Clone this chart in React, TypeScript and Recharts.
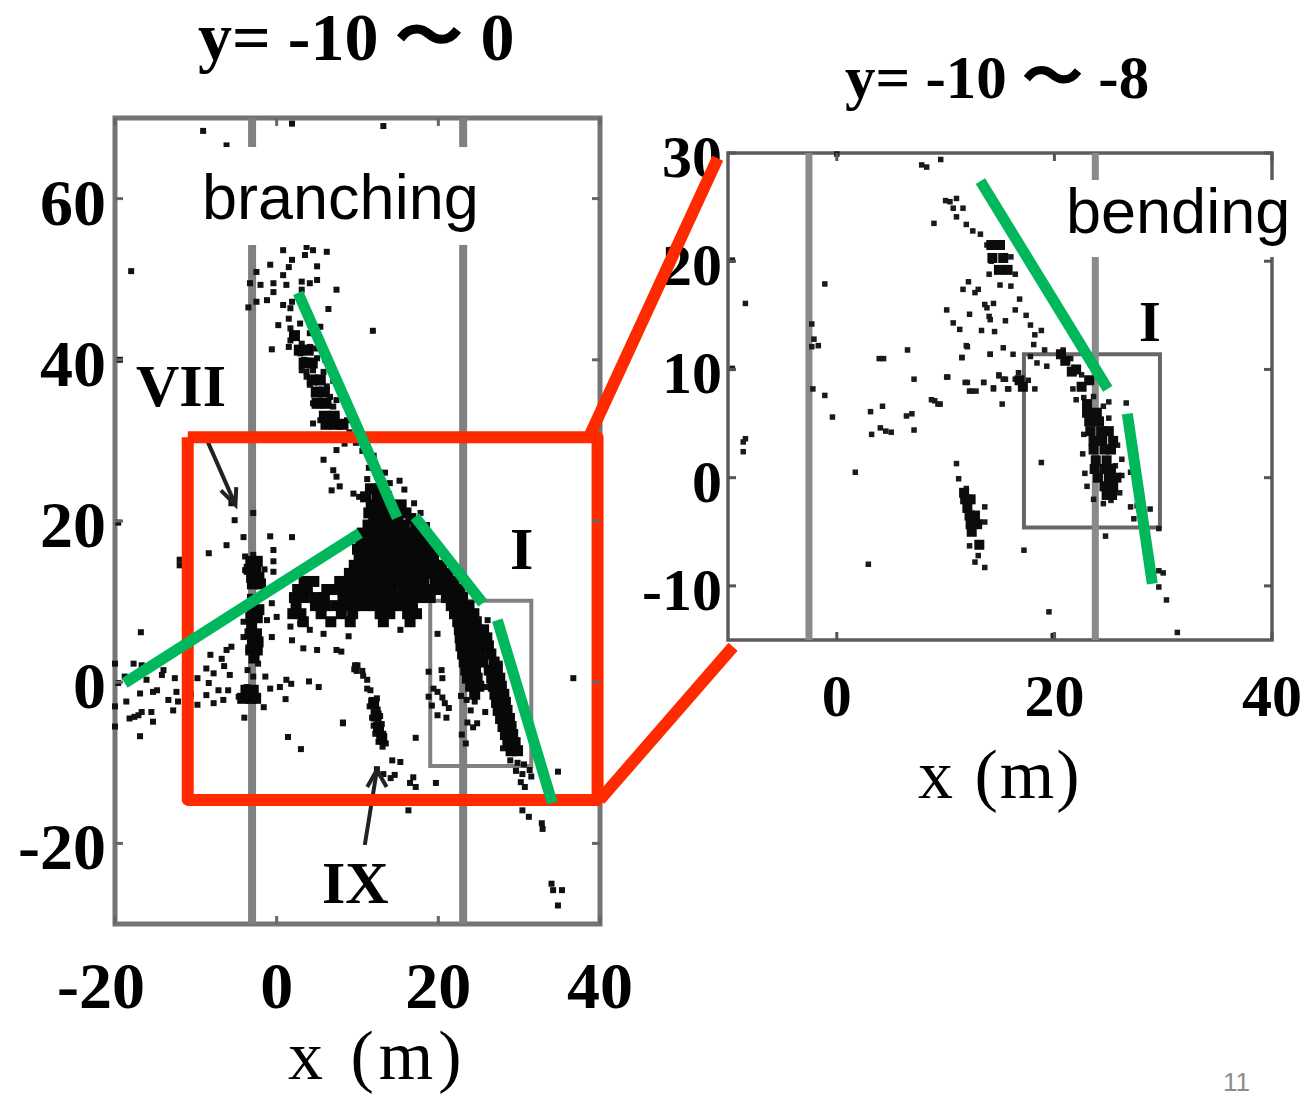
import { ScatterChart, Scatter, XAxis, YAxis, ReferenceArea, ReferenceLine } from "recharts";

type Pt = [number, number];
const toObj = (pts: Pt[]) => pts.map(([x, y]) => ({ x, y }));
// dense rows: [y, x, x, x...]
const fromRows = (rows: number[][]): Pt[] => rows.flatMap(([y, ...xs]) => xs.map((x) => [x, y] as Pt));

const leftXTicks = [-20, 0, 20, 40];
const leftYTicks = [-20, 0, 20, 40, 60];
const rightXTicks = [0, 20, 40];
const rightYTicks = [-10, 0, 10, 20, 30];
const leftWalls = [-3.04, 23.07];
const rightWalls = [-2.56, 23.76];

// solid parts of the left panel, read row by row
const leftCoreRows = [
  [24, 11.6, 12.8], [23, 11, 12.4, 13.6], [22, 11.7, 12.9, 14.1, 15.4], [21, 11.4, 12.6, 13.8, 15, 16],
  [20.3, 12, 13, 14, 15, 16.6],
  [19.5, 11.3, 12.4, 13.5, 14.6, 15.8, 17.2],
  [18.5, 10.6, 11.8, 13, 14.1, 15.2, 16.3, 17.4],
  [17.5, 10.4, 11.5, 12.7, 13.8, 15, 16.2, 17.2, 18.2],
  [16.5, 10, 11.2, 12.3, 13.4, 14.6, 15.7, 16.8, 18, 19],
  [15.5, 10.2, 11.4, 12.5, 13.6, 14.7, 15.9, 17, 18.2, 19.4],
  [14.5, 9.6, 10.8, 12, 13.1, 14.2, 15.3, 16.4, 17.5, 18.6, 19.8, 20.4],
  [13.5, 9, 10.1, 11.2, 12.4, 13.5, 14.6, 15.6, 16.8, 18, 19.1, 20.4, 21.2],
  [12.5, 3.4, 4.6, 7.8, 9, 10.1, 11.3, 12.5, 13.7, 14.8, 16, 17.1, 18.2, 19.6, 20.7, 21.9],
  [11.5, 2.6, 3.8, 6.2, 7.4, 8.6, 9.7, 10.9, 12, 13.2, 14.3, 15.6, 16.8, 18, 19.2, 20.3, 21.5, 22.6],
  [10.5, 2.2, 3.4, 4.7, 5.9, 8.2, 9.4, 10.6, 11.8, 13, 14.2, 15.3, 16.5, 17.7, 19, 21, 22.2, 23],
  [9.5, 2.4, 4.8, 6, 7.3, 8.5, 9.7, 10.9, 12.1, 13.3, 14.4, 15.6, 16.8, 21.6, 22.8, 23.8],
  [8.5, 2, 3, 5.5, 8, 9.4, 12.8, 14, 16.2, 17.3, 22, 23.2, 24.4],
  [7.5, 3.3, 6.7, 9.1, 13.2, 16.5, 22.4, 23.5, 24.7],
  [6.5, 22.6, 23.7, 24.8, 25.6],
  [5.5, 22.7, 23.8, 24.9, 26],
  [4.5, 22.8, 23.9, 25, 26.2],
  [3.5, 23, 24, 25.2, 26.5],
  [2.5, 23.2, 24.3, 25.5, 26.9],
  [1.5, 23.4, 24.6, 26.3, 27.3],
  [0.5, 23.6, 24.8, 26.6, 27.6],
  [-0.5, 24, 25, 26.8, 27.8],
  [-1.5, 24.5, 27, 28.1],
  [-2.5, 27.2, 28.3],
  [-3.5, 27.4, 28.5],
  [-4.5, 27.7, 28.8],
  [-5.5, 28, 29],
  [-6.5, 28.3, 29.2],
  [-7.5, 28.6, 29.5],
  [-8.5, 29, 29.8],
  [15, -3.2, -2.4], [14, -3.4, -2.6], [13, -3.1, -2.2], [12.2, -3, -2],
  [9, -3, -2.2], [8, -3.2, -2.4], [7, -3.1], [6, -3.3, -2.5], [5, -3, -2.3], [4, -3.2, -2.4], [3, -2.8],
  [-1, -3.8, -2.9], [-2, -4.2, -3.2, -2.6],
  [37.5, 4.4, 5.4], [36, 4.9, 5.9], [34.6, 5, 6.1], [33, 5.9, 7.1], [32, 6.1, 7.2, 8.2],
  [43, 2.2], [41.2, 2.8, 3.9], [39.6, 3.4, 4.4],
  [-2.6, 12], [-4.2, 12.3], [-5.6, 12.6], [-7, 13],
];

const leftSparse: Pt[] = [
  [-9.1, 68.4], [-6.2, 66.6], [1.9, 69.3], [13.2, 69], [-18, 51], [-19.4, 40], [-19.6, 19.8],
  [0.8, 53.6], [1.9, 52.4], [1.5, 51.5], [3.7, 54], [4.5, 53.6], [6.2, 53.4], [3.5, 53], [-0.8, 51.8], [-2.5, 50.9], [-3.3, 49.5],
  [-2, 49.3], [-0.4, 49.5], [0.8, 50.5], [1.2, 49.3], [3.1, 49.7], [4.1, 49.5], [5, 49.9], [5, 51.6], [7.4, 48.7], [6.4, 46.3],
  [-3.5, 46.5], [-2.5, 47.2], [-1.2, 47.4], [-0.4, 48.4], [0.8, 46.8], [1.9, 47.2], [3.1, 48.7], [0.2, 44.3], [1.5, 45.1],
  [1.7, 46.4], [2.9, 44.5], [1.7, 43.9], [5.4, 44.1], [-0.6, 41.3], [1.5, 41.6], [1.7, 42.4], [3.1, 42], [4.1, 41.6], [4.1, 43.3],
  [2.9, 40.8], [5, 40.2], [3.7, 38.5], [3.1, 38.7], [4.5, 38.7], [5.8, 38.5], [3.7, 37.9], [5.4, 37.5], [6.2, 36.7], [4.1, 36.9],
  [5, 35.8], [6.6, 35.4], [4.5, 34.6], [5.8, 34.6], [7, 34.2], [5.4, 32.5], [4.5, 32.1], [6.2, 32.9], [7.4, 33], [8.7, 32.5],
  [7.8, 31.7], [9, 31], [3.4, 40], [4.4, 39.7], [4.9, 41.4], [6, 40], [7, 37.4], [7.4, 35], [11.9, 43.6],
  [5.8, 27.6], [7.4, 28.8], [8.4, 29.6], [9.8, 29.7], [10.6, 28.7], [12, 28.1], [11.4, 26.6], [11.2, 25.2], [7, 26.3], [7.4, 25.5],
  [6.8, 23.8], [7.8, 24.3], [9.5, 23.4], [10.2, 23], [13.4, 26], [14, 24.7], [15.8, 23.9], [15.2, 25], [17, 22.2], [17.8, 21], [18.6, 19.5],
  [-5.6, 22.2], [-5.2, 20.1], [-2.9, 21], [-4.1, 18], [-0.8, 18.1], [1.9, 18], [-0.4, 16.4], [-6.2, 17], [-8.4, 16], [-12, 14.5], [-12, 15.2],
  [-3.9, 15.6], [-2.9, 15.8], [-0.4, 15], [-2.5, 14.1], [-3.9, 13.9], [-1.5, 14], [-0.4, 13.7], [-3.3, 12.7], [-2, 12.3], [-3.3, 10.6],
  [-0.6, 9.8], [-2.9, 8.5], [-4.1, 7.5], [-2.9, 6.9], [-1.2, 7.7], [0, 8.1], [-4.1, 5.6], [-2.9, 5.2], [-0.6, 5.6], [1.7, 6.9],
  [2.9, 7.3], [4.1, 6.5], [5.8, 6], [1.9, 5.2], [3.3, 4.2], [5, 4], [7.4, 4], [9.7, 2.1], [9.9, 1.4], [-3.5, 4], [-2.5, 3.6], [-2.3, 2.3],
  [-6.2, 4], [-5.6, 4.4], [-6.8, 2.9], [-6.5, 2], [-8.2, 3.4], [-8.7, 1.7], [-7.8, 1.1], [-5.8, 0.9], [-8.4, -0.1], [-8.7, -1.6], [-7.2, -1],
  [-6, -1], [-7.8, -2.6], [-6.6, -2.2], [-4.7, -1.8], [-3.7, -1.8], [-2.9, -1.6], [-3.7, -0.6], [-2.9, 0.7], [-3.6, 1.5], [-1.4, 0.7], [-0.8, -0.8],
  [0.4, -0.6], [1.2, 0.3], [1.8, -0.2], [1.1, -2.1], [-1.6, -3.1], [-4, -4.4], [4, 0.1], [5.2, -0.6], [8.2, -5.1], [1.4, -6.8], [3, -8.3],
  [-17.7, 2.3], [-16.7, 2.1], [-16.8, 6.2], [-20, 2.3], [-19.6, -0.1], [-18.8, 0.7], [-16.1, 0.3], [-14, 1.5], [-14.2, 0.9], [-12.6, 0.5],
  [-15.3, -1.2], [-14.8, -1], [-16.9, -1.4], [-12.4, -1.2], [-13.4, -2.2], [-12.2, -2.4], [-18.6, -2.4], [-12.8, -3.5], [-16.7, -3.7], [-18.2, -4.5],
  [-17.6, -4.3], [-17.1, -4.1], [-15.5, -3.7], [-15.3, -4.9], [-16.9, -6.7], [-20, -3], [-20, -5.5], [-9.8, -2.8], [-9.8, 0.5], [-10.6, -1.5],
  [10, 2.1], [9.6, 1.6], [10.6, 1.4], [11.2, 0.3], [10.7, 0.8], [11.6, -1], [11.2, -0.8], [11.8, -2.2], [12.4, -2], [12, -3.2], [11.5, -3],
  [12.5, -3.4], [12.2, -4.2], [11.8, -4.4], [12.8, -4.2], [12.5, -5.2], [12, -5.4], [13, -5.2], [12.7, -6.2], [12.2, -6.4], [13.2, -6.4], [13, -7.2],
  [12.6, -7.4], [13.5, -7.6], [13.1, -8], [14.3, -9.7], [15.3, -9.9], [14.6, -11.5], [16.5, -12.5], [16.3, -15.9], [19.7, -12.5], [17.2, -6.9], [8.2, -5],
  [13.2, -11.4], [12.4, -10.8], [14.1, -11.9], [16.9, -11.8], [17.2, -13],
  [18.8, 1.3], [20.5, 0.5], [20.4, 1.5], [19.9, -1.2], [18.8, -1.8], [19.2, -2.9], [20.8, -2.6], [21.3, -3.2], [19.9, -4.1], [21, -4.4], [19.4, -0.8],
  [20.5, -1.9], [24.3, -5.6], [22.9, -6.5], [23.4, -7.6], [25.8, -3.7], [28, -8.2], [26.9, -1.5], [22.8, -1.7], [23.5, -2.2], [24.5, -2.4], [24, -3.5], [23.6, -5],
  [24.8, -5.1], [25.8, -0.6], [27.6, 2.3], [27.6, 0], [26.1, 7.7], [23.5, 8], [19.9, 6], [15.3, 6.5], [8.9, 5.7], [8, 3.8],
  [28.9, -9.7], [29.8, -10], [30.6, -10.2], [29.6, -11], [30.4, -11.4], [31.3, -10.9], [31.5, -11.7], [30.2, -12.4], [30.7, -13], [30.9, -14.5], [30.4, -15.9],
  [31.2, -16.7], [32.8, -17.5], [32.9, -18.2], [36.7, 0.5], [34.8, -11.1], [34.2, -25.8], [34, -25], [35.3, -25.8], [34.8, -27.7],
];

// solid part of the fault in the right panel
const rightCoreRows = [
  [21.5, 14.2, 15], [20.3, 14.3, 15.3], [19.2, 14.9, 15.7], [11.4, 20.6], [10.8, 21], [10, 22], [9.8, 21.6], [9, 16.8, 23.2], [8.4, 17.1, 22.5],
  [6.8, 23],
  [6, 23, 23.9], [5.2, 23.2, 24.1], [4.3, 23.3, 24.3, 25], [3.4, 23.6, 24.4, 25.4], [2.6, 23.6, 24.6, 25.2], [1.6, 23.8, 24.8],
  [0.8, 23.7, 24.6, 25.2], [0, 24, 25, 25.7], [-0.8, 24.6, 25.4], [-1.6, 24.8, 25.3],
  [-1.4, 11.7], [-2, 11.8, 12.3], [-2.8, 12], [-3.5, 12.2, 12.7], [-4.3, 12.3, 12.9], [-5, 12.4], [-6.2, 13.1],
];

const rightSparse: Pt[] = [
  [0, 29.9], [8.26, 28.7], [7.8, 28.9], [9.55, 29.4], [10.4, 25.5], [10, 25.6], [11, 25.8], [11.6, 24.9], [10.7, 24.9], [11, 24.1], [8.93, 23.5], [11.9, 23.4],
  [12.5, 22.8], [13.2, 22.5], [13.8, 21.5], [14.7, 21.7], [14.2, 20], [14, 18.8], [15.6, 19.4], [15, 17.8], [16, 20.4], [16.4, 18.8], [16, 17.7],
  [12.1, 18.1], [11.6, 17.4], [12.7, 17.1], [13, 17.4], [10.1, 15.5], [12.2, 15.1], [14, 14.9], [13.8, 15.7], [14.4, 16.1], [15.5, 14.5], [10.7, 14.3],
  [13.3, 13.6], [14.5, 13.5], [12, 12.1], [11.5, 11.1], [14.1, 11.4], [15.3, 12], [6.5, 11.8], [4.3, 11], [3.9, 11], [-1.1, 17.9], [-8.4, 16.1], [-9.6, 20.1],
  [-9.6, 10.1], [-2.3, 14.2], [-2.1, 12.8], [-1.7, 12.2], [-2.3, 12.1], [-2.2, 8.2], [-1.1, 7.6], [7.1, 9.1], [10.2, 9.3], [12, 8.8], [12.2, 8], [12.8, 8],
  [13.5, 8.8], [14.4, 8.3], [14.9, 9.4], [15.3, 9.1], [15.7, 8.2], [15.2, 6.8], [8.7, 7.2], [9.3, 6.8], [4.2, 6.6], [3.1, 6.1], [-0.4, 5.6], [6.9, 5.9], [6.4, 5.7],
  [7.1, 4.4], [4, 4.6], [5, 4.2], [4.5, 4.3], [3.2, 4], [-8.4, 3.6], [-8.6, 3.3], [-8.6, 2.4], [2.9, -8], [1.7, 0.5],
  [16.8, 16.5], [16.4, 15.5], [17.8, 14.1], [18.2, 13.2], [19.1, 11.8], [17.4, 15], [18.8, 13.6], [14.1, 14.6], [11.3, 13.7], [13.6, 16],
  [11.9, 12.2], [11.5, 11.1], [14.1, 11.4], [16.2, 11.4], [18.1, 12.3], [17.8, 11.2], [18.4, 10.6], [19.3, 10.3], [16.7, 9.7], [17.6, 9], [16.4, 9.1], [15.8, 8.2],
  [18.2, 8.2], [14.9, 9.5], [15.5, 9.1], [13.5, 8.8], [14.4, 8.2], [11.8, 8.8], [12.4, 8], [10.1, 9.3], [9, 7.1], [9.5, 6.8], [11, 1.3], [11.2, -0.1], [18.8, 1.4],
  [20.8, 11.8], [21.5, 11], [22.5, 9.5], [23.4, 9], [21.7, 8.2], [22, 7.2], [22.7, 7.4], [23.6, 7.5], [24.5, 6.6], [25, 5.5], [26.6, 6.9], [25, 7],
  [22.7, 4], [22.6, 2.2], [25.8, 3], [25.6, 1.1], [22.8, 0.4], [23, -0.8], [25.6, -0.8], [26.2, 1.7], [27, 0.5], [26.2, 0.2], [26, -1.4], [23.6, -2], [25.2, -2.1],
  [24.5, -2.4], [27, -2.7], [27.6, -2.6], [28.8, -2.9], [27.3, -3.8], [29.6, -4.7], [24.7, -5.4], [17.2, -6.7], [19.5, -12.4], [19.9, -14.6], [29.6, -8.6], [30, -8.8],
  [29.6, -10.1], [30.3, -11.3], [31.3, -14.3], [13.6, -2.7], [13.6, -4.1], [12.2, -6.3], [12.7, -7.8], [13.6, -8.3], [13, -7.2], [11.9, -1],
];

const leftRedBox: Pt[] = [[-11, 30.4], [39.7, 30.4], [39.7, -14.6], [-11, -14.6], [-11, 30.4]];
const leftGreen: Pt[][] = [
  [[2.65, 48.3], [14.9, 20.4]],
  [[-18.8, -0.1], [10.3, 18.5]],
  [[17.1, 20.5], [25.5, 9.8]],
  [[27.3, 7.7], [34.1, -15]],
];
const rightGreen: Pt[][] = [
  [[13.2, 27.4], [24.9, 8.2]],
  [[26.7, 5.9], [29, -9.8]],
];
const arrowVII: Pt[] = [[-8.6, 30], [-5.1, 22]];
const arrowVIIHead: Pt[] = [[-6.9, 23.8], [-5.1, 22], [-5, 24.2]];
const arrowIX: Pt[] = [[10.9, -20.2], [12.4, -10.9]];
const arrowIXHead: Pt[] = [[11.2, -13], [12.4, -10.9], [13.6, -13]];
// the two connectors, in left panel units
const connectors: Pt[][] = [
  [[38.8, 30.7], [54.6, 65]],
  [[40, -14.6], [56.5, 4.4]],
];

const serif = "'Liberation Serif', serif";
const sans = "'Liberation Sans', sans-serif";
const ink = "#000";
const soft = "blur(0.7px)";

const square = (size: number, fill: string) => (p: any) =>
  <rect x={p.cx - size / 2} y={p.cy - size / 2} width={size} height={size} fill={fill} style={{ filter: soft }} />;
const none = () => <g />;

function xTick(plotH: number, fontSize: number, drop: number, shift: number, color: string) {
  return (p: any) => {
    const v = p.payload.value;
    return (
      <g>
        <line x1={p.x} x2={p.x} y1={p.y} y2={p.y - 8} stroke={color} strokeWidth={3} />
        <line x1={p.x} x2={p.x} y1={p.y - plotH} y2={p.y - plotH + 8} stroke={color} strokeWidth={3} />
        <text x={p.x + (v < 0 ? shift : 0)} y={p.y + drop} textAnchor="middle" fontFamily={serif} fontWeight="bold" fontSize={fontSize} fill={ink} style={{ filter: soft }}>{v}</text>
      </g>
    );
  };
}

function yTick(plotW: number, fontSize: number, gap: number, drop: number, color: string) {
  return (p: any) => (
    <g>
      <line x1={p.x} x2={p.x + 8} y1={p.y} y2={p.y} stroke={color} strokeWidth={3} />
      <line x1={p.x + plotW} x2={p.x + plotW - 8} y1={p.y} y2={p.y} stroke={color} strokeWidth={3} />
      <text x={p.x - gap} y={p.y + drop} textAnchor="end" fontFamily={serif} fontWeight="bold" fontSize={fontSize} fill={ink} style={{ filter: soft }}>{p.payload.value}</text>
    </g>
  );
}

function Note({ x, y, size, children, weight = "bold", font = serif, color = ink, spacing = 0, blur = true }: any) {
  return (
    <div style={{ position: "absolute", left: x, top: y, fontSize: size, fontWeight: weight, fontFamily: font, color, lineHeight: 1, whiteSpace: "nowrap", letterSpacing: spacing, filter: blur ? soft : "none" }}>
      {children}
    </div>
  );
}

function LeftPanel() {
  return (
    <ScatterChart width={660} height={1097} margin={{ top: 118, right: 60, bottom: 0, left: 0 }} style={{ position: "absolute", left: 0, top: 0 }}>
      <XAxis type="number" dataKey="x" domain={[-20, 40]} ticks={leftXTicks} height={173} tickSize={0} tickMargin={0} axisLine={false} tickLine={false} interval={0}
        tick={xTick(806, 66, 84, -14, "#666")} />
      <YAxis type="number" dataKey="y" domain={[-30, 70]} ticks={leftYTicks} width={115} tickSize={0} tickMargin={0} axisLine={false} tickLine={false} interval={0}
        tick={yTick(485, 66, 9, 26, "#666")} />
      <ReferenceArea x1={-20} x2={40} y1={-30} y2={70} fill="none" stroke="#747474" strokeWidth={5} />
      {leftWalls.map((x) => <ReferenceLine key={x} x={x} stroke="#808080" strokeWidth={8} />)}
      <ReferenceArea x1={19} x2={31.5} y1={-10.4} y2={10.1} fill="none" stroke="#808080" strokeWidth={4} />
      <Scatter data={toObj(leftSparse)} shape={square(6, "#111")} isAnimationActive={false} />
      <Scatter data={toObj(fromRows(leftCoreRows))} shape={square(11, "#080808")} isAnimationActive={false} />
      {[arrowVII, arrowVIIHead, arrowIX, arrowIXHead].map((seg, i) => (
        <Scatter key={i} data={toObj(seg)} shape={none} line={{ stroke: "#222", strokeWidth: 4 }} isAnimationActive={false} />
      ))}
      <Scatter data={toObj(leftRedBox)} shape={none} line={{ stroke: "#ff2a00", strokeWidth: 12, strokeLinejoin: "round", fill: "none" }} isAnimationActive={false} />
      {leftGreen.map((seg, i) => (
        <Scatter key={i} data={toObj(seg)} shape={none} line={{ stroke: "#00b75c", strokeWidth: 11 }} isAnimationActive={false} />
      ))}
    </ScatterChart>
  );
}

function RightPanel() {
  return (
    <ScatterChart width={674} height={820} margin={{ top: 153, right: 42, bottom: 0, left: 0 }} style={{ position: "absolute", left: 640, top: 0 }}>
      <XAxis type="number" dataKey="x" domain={[-10, 40]} ticks={rightXTicks} height={180} tickSize={0} tickMargin={0} axisLine={false} tickLine={false} interval={0}
        tick={xTick(487, 60, 76, 0, "#555")} />
      <YAxis type="number" dataKey="y" domain={[-15, 30]} ticks={rightYTicks} width={88} tickSize={0} tickMargin={0} axisLine={false} tickLine={false} interval={0}
        tick={yTick(544, 60, 6, 24, "#555")} />
      <ReferenceArea x1={-10} x2={40} y1={-15} y2={30} fill="none" stroke="#5c5c5c" strokeWidth={3.5} />
      {rightWalls.map((x) => <ReferenceLine key={x} x={x} stroke="#8a8a8a" strokeWidth={7} />)}
      <ReferenceArea x1={17.2} x2={29.7} y1={-4.6} y2={11.4} fill="none" stroke="#666" strokeWidth={4} />
      <Scatter data={toObj(rightSparse)} shape={square(5.5, "#1a1a1a")} isAnimationActive={false} />
      <Scatter data={toObj(fromRows(rightCoreRows))} shape={square(10, "#0c0c0c")} isAnimationActive={false} />
      {rightGreen.map((seg, i) => (
        <Scatter key={i} data={toObj(seg)} shape={none} line={{ stroke: "#00b75c", strokeWidth: 11 }} isAnimationActive={false} />
      ))}
    </ScatterChart>
  );
}

function Connectors() {
  return (
    <ScatterChart width={1314} height={1097} margin={{ top: 0, right: 0, bottom: 0, left: 0 }} style={{ position: "absolute", left: 0, top: 0 }}>
      <XAxis type="number" dataKey="x" domain={[-34.23, 128.4]} hide />
      <YAxis type="number" dataKey="y" domain={[-51.46, 84.64]} hide />
      {connectors.map((seg, i) => (
        <Scatter key={i} data={toObj(seg)} shape={none} line={{ stroke: "#ff2a00", strokeWidth: 12 }} isAnimationActive={false} />
      ))}
    </ScatterChart>
  );
}

export default function App() {
  return (
    <div style={{ position: "absolute", left: 0, top: 0, width: 1314, height: 1097, background: "#fff", overflow: "hidden" }}>
      <LeftPanel />
      <RightPanel />
      <div style={{ position: "absolute", left: 195, top: 147, width: 290, height: 98, background: "#fff" }} />
      <div style={{ position: "absolute", left: 1062, top: 180, width: 252, height: 77, background: "#fff" }} />
      <Connectors />
      <Note x={198} y={3} size={68}>y= -10 〜 0</Note>
      <Note x={845} y={47} size={61}>y= -10 〜 -8</Note>
      <Note x={202} y={166} size={63} weight="normal" font={sans} color="#000" blur={false}>branching</Note>
      <Note x={1066} y={180} size={63} weight="normal" font={sans} color="#000" blur={false}>bending</Note>
      <Note x={136} y={356} size={60}>VII</Note>
      <Note x={510} y={519} size={60}>I</Note>
      <Note x={322} y={853} size={60}>IX</Note>
      <Note x={1139} y={294} size={56}>I</Note>
      <Note x={288} y={1021} size={70} weight="normal" spacing={5}>x (m)</Note>
      <Note x={918} y={740} size={70} weight="normal" spacing={2}>x (m)</Note>
      <Note x={1223} y={1069} size={26} weight="normal" font={sans} color="#8c8c8c" blur={false}>11</Note>
    </div>
  );
}
